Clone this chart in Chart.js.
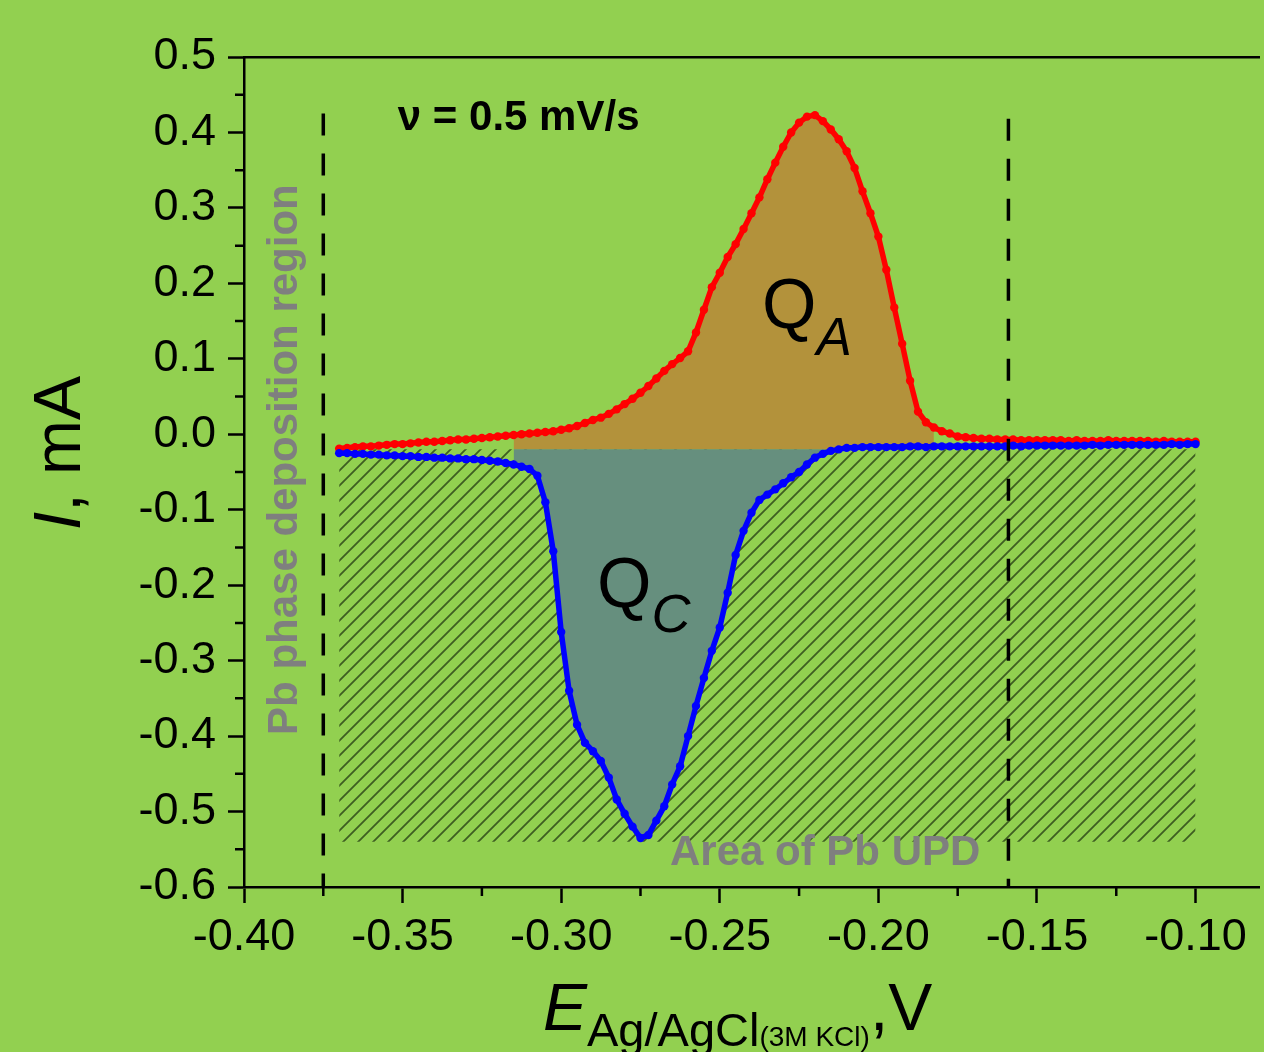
<!DOCTYPE html>
<html>
<head>
<meta charset="utf-8">
<script src="https://cdn.jsdelivr.net/npm/chart.js@4.4.1/dist/chart.umd.min.js"></script>
<style>
    html, body { margin: 0; padding: 0; background: #92D050; overflow: hidden; }
    #wrap { width: 1264px; height: 1052px; position: relative; }
</style>
</head>
<body>
<div id="wrap"><canvas id="cvChart"></canvas></div>
<script>
// potential, V vs Ag/AgCl (3M KCl)
const potentials = [
    -0.3700, -0.3675, -0.3650, -0.3625, -0.3600, -0.3575, -0.3550, -0.3525, -0.3500, -0.3475,
    -0.3450, -0.3425, -0.3400, -0.3375, -0.3350, -0.3325, -0.3300, -0.3275, -0.3250, -0.3225,
    -0.3200, -0.3175, -0.3150, -0.3125, -0.3100, -0.3075, -0.3050, -0.3025, -0.3000, -0.2975,
    -0.2950, -0.2925, -0.2900, -0.2875, -0.2850, -0.2825, -0.2800, -0.2775, -0.2750, -0.2725,
    -0.2700, -0.2675, -0.2650, -0.2625, -0.2600, -0.2575, -0.2550, -0.2525, -0.2500, -0.2475,
    -0.2450, -0.2425, -0.2400, -0.2375, -0.2350, -0.2325, -0.2300, -0.2275, -0.2250, -0.2225,
    -0.2200, -0.2175, -0.2150, -0.2125, -0.2100, -0.2075, -0.2050, -0.2025, -0.2000, -0.1975,
    -0.1950, -0.1925, -0.1900, -0.1875, -0.1850, -0.1825, -0.1800, -0.1775, -0.1750, -0.1725,
    -0.1700, -0.1675, -0.1650, -0.1625, -0.1600, -0.1575, -0.1550, -0.1525, -0.1500, -0.1475,
    -0.1450, -0.1425, -0.1400, -0.1375, -0.1350, -0.1325, -0.1300, -0.1275, -0.1250, -0.1225,
    -0.1200, -0.1175, -0.1150, -0.1125, -0.1100, -0.1075, -0.1050, -0.1025, -0.1000
];

// anodic sweep current, mA (red)
const anodicCurrent = [
    -0.019, -0.018, -0.017, -0.016, -0.016, -0.015, -0.014, -0.013, -0.013, -0.012,
    -0.011, -0.010, -0.010, -0.009, -0.008, -0.007, -0.007, -0.006, -0.005, -0.004,
    -0.003, -0.002, -0.001, 0.000, 0.001, 0.002, 0.003, 0.004, 0.006, 0.008,
    0.011, 0.015, 0.019, 0.022, 0.027, 0.033, 0.040, 0.047, 0.055, 0.064,
    0.074, 0.084, 0.093, 0.101, 0.110, 0.135, 0.165, 0.195, 0.214, 0.235,
    0.252, 0.272, 0.293, 0.314, 0.338, 0.360, 0.381, 0.400, 0.413, 0.421,
    0.423, 0.415, 0.404, 0.391, 0.375, 0.353, 0.322, 0.293, 0.262, 0.218,
    0.168, 0.120, 0.071, 0.030, 0.016, 0.009, 0.004, 0.001, -0.003, -0.004,
    -0.005, -0.006, -0.006, -0.007, -0.007, -0.007, -0.008, -0.008, -0.008, -0.008,
    -0.008, -0.008, -0.009, -0.008, -0.009, -0.009, -0.009, -0.008, -0.009, -0.009,
    -0.009, -0.009, -0.009, -0.010, -0.009, -0.010, -0.010, -0.010, -0.010
];

// cathodic sweep current, mA (blue)
const cathodicCurrent = [
    -0.025, -0.025, -0.026, -0.026, -0.027, -0.027, -0.028, -0.028, -0.029, -0.029,
    -0.030, -0.030, -0.031, -0.031, -0.032, -0.032, -0.033, -0.033, -0.034, -0.035,
    -0.036, -0.038, -0.040, -0.043, -0.046, -0.055, -0.090, -0.155, -0.262, -0.340,
    -0.385, -0.409, -0.420, -0.433, -0.455, -0.484, -0.503, -0.520, -0.535, -0.531,
    -0.512, -0.493, -0.464, -0.440, -0.400, -0.360, -0.323, -0.287, -0.256, -0.210,
    -0.160, -0.128, -0.104, -0.087, -0.080, -0.073, -0.065, -0.057, -0.050, -0.040,
    -0.031, -0.026, -0.022, -0.020, -0.018, -0.018, -0.017, -0.017, -0.017, -0.017,
    -0.017, -0.017, -0.016, -0.016, -0.017, -0.016, -0.016, -0.016, -0.016, -0.016,
    -0.016, -0.016, -0.016, -0.016, -0.016, -0.015, -0.016, -0.015, -0.015, -0.015,
    -0.015, -0.015, -0.015, -0.015, -0.015, -0.014, -0.015, -0.014, -0.014, -0.014,
    -0.014, -0.014, -0.014, -0.014, -0.014, -0.013, -0.014, -0.013, -0.013
];

const X_TICKS = [-0.40, -0.35, -0.30, -0.25, -0.20, -0.15, -0.10];
const X_MINOR = [-0.375, -0.325, -0.275, -0.225, -0.175, -0.125];
const Y_TICKS = [0.5, 0.4, 0.3, 0.2, 0.1, 0.0, -0.1, -0.2, -0.3, -0.4, -0.5, -0.6];
const Y_MINOR = [0.45, 0.35, 0.25, 0.15, 0.05, -0.05, -0.15, -0.25, -0.35, -0.45, -0.55];

const BASELINE = -0.02;            // integration baseline, mA
const QA_RANGE = [-0.3150, -0.1825];
const QC_RANGE = [-0.3150, -0.2125];
const UPD_RANGE = [-0.37, -0.10];
const UPD_BOTTOM = -0.54;
const PHASE_LIMIT = -0.375;        // left dashed line
const UPD_LIMIT = -0.159;          // right dashed line

const FONT = "'Liberation Sans', Arial, sans-serif";

function makeHatch() {
    const size = 15;
    const c = document.createElement('canvas');
    c.width = size;
    c.height = size;
    const g = c.getContext('2d');
    g.strokeStyle = '#3E5E22';
    g.lineWidth = 1.8;
    g.beginPath();
    g.moveTo(0, size); g.lineTo(size, 0);
    g.moveTo(-size / 2, size / 2); g.lineTo(size / 2, -size / 2);
    g.moveTo(size / 2, size * 1.5); g.lineTo(size * 1.5, size / 2);
    g.stroke();
    return g.createPattern(c, 'repeat');
}

const redPoints = potentials.map((e, i) => ({ x: e, y: anodicCurrent[i] }));
const bluePoints = potentials.map((e, i) => ({ x: e, y: cathodicCurrent[i] }));
const inRange = (r) => (p) => p.x >= r[0] - 1e-9 && p.x <= r[1] + 1e-9;

const minorTicks = {
    id: 'minorTicks',
    afterDraw(chart) {
        const { ctx, chartArea } = chart;
        const xs = chart.scales.x, ys = chart.scales.y;
        ctx.save();
        ctx.strokeStyle = '#000';
        ctx.lineWidth = 2.5;
        ctx.beginPath();
        X_MINOR.forEach(v => {
            const px = xs.getPixelForValue(v);
            ctx.moveTo(px, chartArea.bottom);
            ctx.lineTo(px, chartArea.bottom + 9);
        });
        Y_MINOR.forEach(v => {
            const py = ys.getPixelForValue(v);
            ctx.moveTo(chartArea.left, py);
            ctx.lineTo(chartArea.left - 9, py);
        });
        ctx.stroke();
        ctx.restore();
    }
};

const labels = {
    id: 'labels',
    afterDraw(chart) {
        const { ctx } = chart;
        const xs = chart.scales.x, ys = chart.scales.y;
        ctx.save();
        ctx.textBaseline = 'alphabetic';
        ctx.textAlign = 'left';

        // scan rate
        ctx.fillStyle = '#000';
        ctx.font = 'bold 42px ' + FONT;
        ctx.fillText('ν = 0.5 mV/s', xs.getPixelForValue(-0.3515), ys.getPixelForValue(0.403));

        // Q_A
        let px = xs.getPixelForValue(-0.2367), py = ys.getPixelForValue(0.141);
        ctx.font = '70px ' + FONT;
        ctx.fillText('Q', px, py);
        let w = ctx.measureText('Q').width;
        ctx.font = 'italic 53px ' + FONT;
        ctx.fillText('A', px + w, py + 27);

        // Q_C
        px = xs.getPixelForValue(-0.2887); py = ys.getPixelForValue(-0.2287);
        ctx.font = '70px ' + FONT;
        ctx.fillText('Q', px, py);
        w = ctx.measureText('Q').width;
        ctx.font = 'italic 54px ' + FONT;
        ctx.fillText('C', px + w, py + 25);

        // gray region labels
        ctx.fillStyle = '#7F7F7F';
        ctx.font = 'bold 42px ' + FONT;
        ctx.fillText('Area of Pb UPD', xs.getPixelForValue(-0.2657), ys.getPixelForValue(-0.5711));
        ctx.save();
        ctx.translate(xs.getPixelForValue(-0.3833), ys.getPixelForValue(-0.3985));
        ctx.rotate(-Math.PI / 2);
        ctx.fillText('Pb phase deposition region', 0, 0);
        ctx.restore();

        // y title
        ctx.fillStyle = '#000';
        ctx.save();
        ctx.translate(80, 530);
        ctx.rotate(-Math.PI / 2);
        ctx.font = 'italic 66px ' + FONT;
        ctx.fillText('I', 0, 0);
        w = ctx.measureText('I').width;
        ctx.font = '66px ' + FONT;
        ctx.fillText(', mA', w, 0);
        ctx.restore();

        // x title
        let cx = 543;
        ctx.font = 'italic 66px ' + FONT;
        ctx.fillText('E', cx, 1030);
        cx += ctx.measureText('E').width;
        ctx.font = '47px ' + FONT;
        ctx.fillText('Ag/AgCl', cx, 1046);
        cx += ctx.measureText('Ag/AgCl').width;
        ctx.font = '28px ' + FONT;
        ctx.fillText('(3M KCl)', cx, 1046);
        cx += ctx.measureText('(3M KCl)').width;
        ctx.font = '66px ' + FONT;
        ctx.fillText(',V', cx, 1030);

        ctx.restore();
    }
};

const axisTick = {
    drawOnChartArea: false,
    drawTicks: true,
    tickLength: 16,
    tickWidth: 2.5,
    tickColor: '#000'
};

new Chart(document.getElementById('cvChart').getContext('2d'), {
    type: 'line',
    data: {
        datasets: [
            {
                label: 'UPD area',
                data: [{ x: UPD_RANGE[0], y: BASELINE }, { x: UPD_RANGE[1], y: BASELINE }],
                fill: { value: UPD_BOTTOM },
                backgroundColor: makeHatch(),
                borderWidth: 0,
                pointRadius: 0,
                order: 7
            },
            {
                label: 'QA',
                data: redPoints.filter(inRange(QA_RANGE)),
                fill: { value: BASELINE },
                backgroundColor: '#B3923B',
                borderWidth: 0,
                pointRadius: 0,
                order: 6
            },
            {
                label: 'QC',
                data: bluePoints.filter(inRange(QC_RANGE)),
                fill: { value: BASELINE },
                backgroundColor: '#668F7E',
                borderWidth: 0,
                pointRadius: 0,
                order: 5
            },
            {
                label: 'anodic',
                data: redPoints,
                borderColor: '#FF0000',
                backgroundColor: '#FF0000',
                borderWidth: 5.5,
                pointRadius: 4.2,
                pointBorderWidth: 0,
                fill: false,
                order: 3
            },
            {
                label: 'cathodic',
                data: bluePoints,
                borderColor: '#0000FF',
                backgroundColor: '#0000FF',
                borderWidth: 5.5,
                pointRadius: 4.2,
                pointBorderWidth: 0,
                fill: false,
                order: 2
            },
            {
                label: 'phase limit',
                data: [{ x: PHASE_LIMIT, y: 0.425 }, { x: PHASE_LIMIT, y: -0.6 }],
                borderColor: '#000',
                borderWidth: 3.5,
                borderDash: [22, 18],
                pointRadius: 0,
                fill: false,
                order: 1
            },
            {
                label: 'upd limit',
                data: [{ x: UPD_LIMIT, y: 0.418 }, { x: UPD_LIMIT, y: -0.6 }],
                borderColor: '#000',
                borderWidth: 3.5,
                borderDash: [22, 18],
                pointRadius: 0,
                fill: false,
                order: 0
            }
        ]
    },
    options: {
        responsive: true,
        maintainAspectRatio: false,
        animation: false,
        layout: { padding: { left: 0, right: 5, top: 0, bottom: 0 } },
        plugins: {
            legend: { display: false },
            tooltip: { enabled: false }
        },
        scales: {
            x: {
                type: 'linear',
                position: 'bottom',
                min: -0.40,
                max: -0.08,
                afterBuildTicks: s => { s.ticks = X_TICKS.map(v => ({ value: v })); },
                afterFit: s => { s.height = 165; },
                grid: axisTick,
                border: { display: true, color: '#000', width: 2.5 },
                ticks: {
                    color: '#000',
                    font: { family: FONT, size: 45 },
                    padding: 8,
                    maxRotation: 0,
                    autoSkip: false,
                    callback: v => v.toFixed(2)
                }
            },
            xTop: {
                type: 'linear',
                position: 'top',
                display: true,
                min: -0.40,
                max: -0.08,
                afterFit: s => { s.height = 57; },
                grid: { display: false, drawTicks: false },
                border: { display: true, color: '#000', width: 2.5 },
                ticks: { display: false }
            },
            y: {
                type: 'linear',
                position: 'left',
                min: -0.6,
                max: 0.5,
                afterBuildTicks: s => { s.ticks = Y_TICKS.map(v => ({ value: v })); },
                afterFit: s => { s.width = 244; },
                grid: axisTick,
                border: { display: true, color: '#000', width: 2.5 },
                ticks: {
                    color: '#000',
                    font: { family: FONT, size: 45 },
                    padding: 12,
                    autoSkip: false,
                    callback: v => v.toFixed(1)
                }
            }
        }
    },
    plugins: [minorTicks, labels]
});
</script>
</body>
</html>
